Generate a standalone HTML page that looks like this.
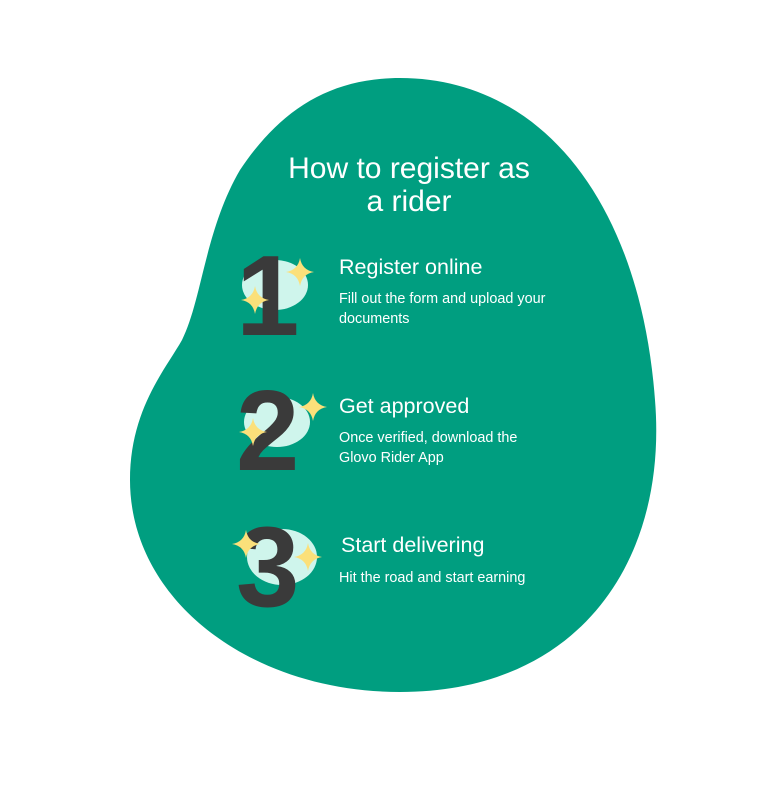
<!DOCTYPE html>
<html><head><style>
body{margin:0;background:#fff;width:779px;height:800px;overflow:hidden}
svg{display:block}
</style></head><body>
<svg width="779" height="800" viewBox="0 0 779 800" xmlns="http://www.w3.org/2000/svg">
<defs>
<path id="s" d="M0 -14 Q2 -2 14 0 Q2 2 0 14 Q-2 2 -14 0 Q-2 -2 0 -14Z"/>
</defs>
<path d="M400 78 C540 78 640 200 655 400 C668 560 580 692 400 692 C250 692 130 600 130 480 C130 410 165 370 182 340 C202 300 205 230 240 170 C280 110 330 78 400 78Z" fill="#009e80"/>
<g font-family="Liberation Sans, sans-serif" fill="#fff">
<text x="409" y="178" font-size="30" text-anchor="middle">How to register as</text>
<text x="409" y="211" font-size="30" text-anchor="middle">a rider</text>
<text x="339" y="274" font-size="21.5">Register online</text>
<text x="339" y="303" font-size="14.4">Fill out the form and upload your</text>
<text x="339" y="323" font-size="14.4">documents</text>
<text x="339" y="413" font-size="21.5">Get approved</text>
<text x="339" y="442" font-size="14.4">Once verified, download the</text>
<text x="339" y="462" font-size="14.4">Glovo Rider App</text>
<text x="341" y="552" font-size="21.5">Start delivering</text>
<text x="339" y="582" font-size="14.4">Hit the road and start earning</text>
</g>
<g fill="#cff5ec">
<ellipse cx="275" cy="285" rx="33" ry="25"/>
<ellipse cx="277" cy="422" rx="33" ry="25"/>
<ellipse cx="282" cy="557" rx="35" ry="28"/>
</g>
<g font-family="Liberation Sans, sans-serif" font-weight="bold" fill="#3a3a3a" font-size="114">
<text x="236" y="335">1</text>
<text x="236" y="470">2</text>
<text x="236" y="606">3</text>
</g>
<g fill="#fbe07a">
<use href="#s" transform="translate(300,272)"/>
<use href="#s" transform="translate(255,300)"/>
<use href="#s" transform="translate(313,407)"/>
<use href="#s" transform="translate(253,432)"/>
<use href="#s" transform="translate(246,544)"/>
<use href="#s" transform="translate(308,557)"/>
</g>
</svg>
</body></html>
